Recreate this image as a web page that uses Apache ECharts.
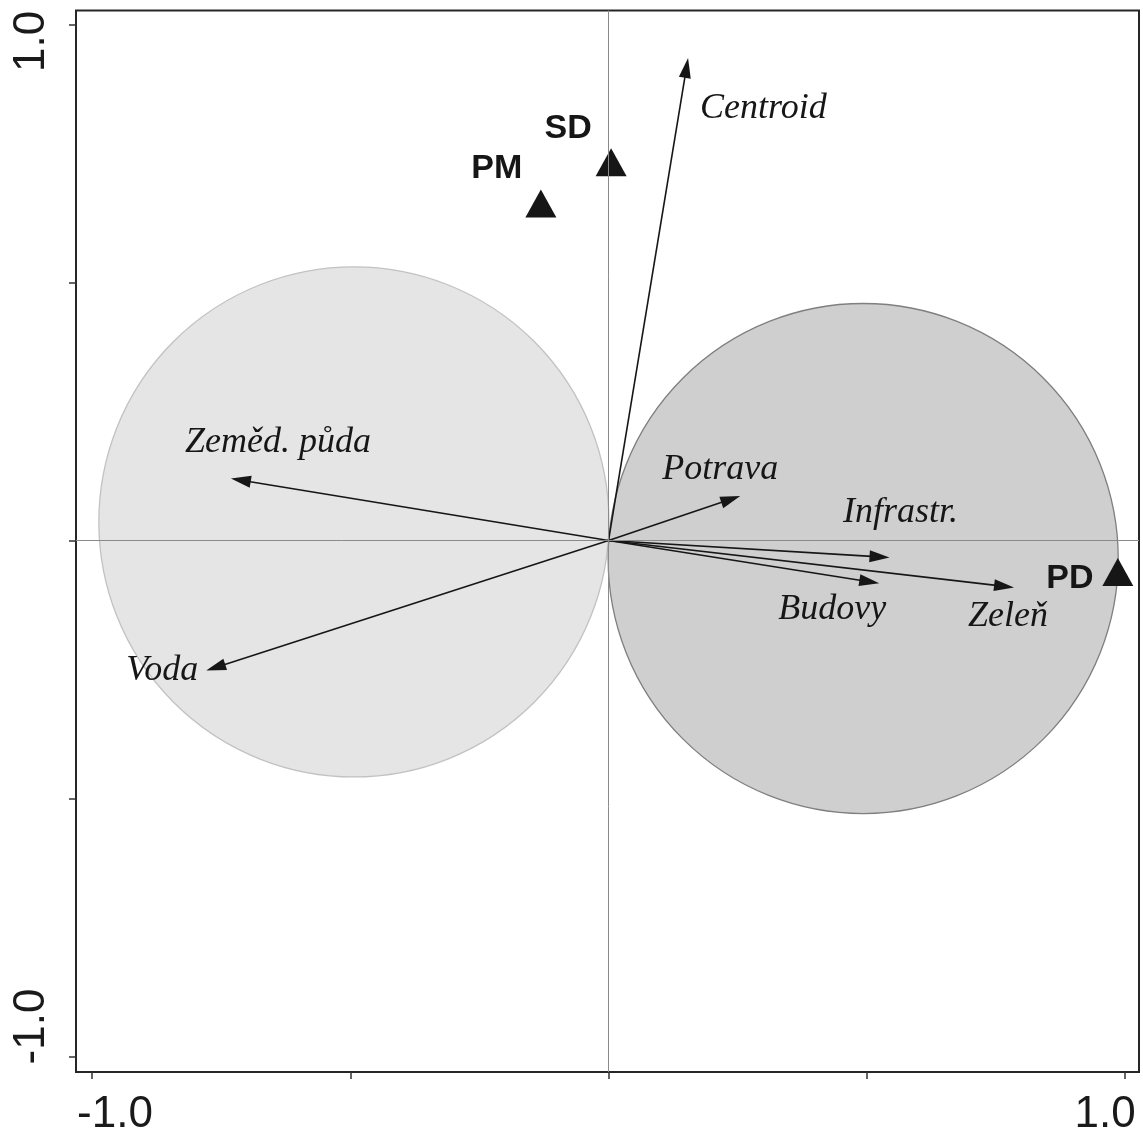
<!DOCTYPE html>
<html>
<head>
<meta charset="utf-8">
<title>CCA biplot</title>
<script src="https://cdn.jsdelivr.net/npm/echarts@6/dist/echarts.min.js"></script>
<style>
  html, body { margin: 0; padding: 0; background: #ffffff; }
  #chart { width: 1143px; height: 1137px; }
</style>
</head>
<body>
<div id="chart"></div>
<script>
// Environmental variables (arrow tips, axis 1 / axis 2)
const varNames = ['Centroid', 'Zeměd. půda', 'Voda', 'Potrava', 'Infrastr.', 'Budovy', 'Zeleň'];
const varX = [0.154, -0.731, -0.779, 0.255, 0.544, 0.524, 0.785];
const varY = [0.935, 0.120, -0.252, 0.086, -0.033, -0.083, -0.091];

// Samples (triangles)
const sampleNames = ['SD', 'PM', 'PD'];
const sampleX = [0.005, -0.131, 0.986];
const sampleY = [0.733, 0.653, -0.061];

// Van Dobben circles: centre x, centre y, radius
const circleX = [-0.493, 0.493];
const circleY = [0.036, -0.035];
const circleR = [0.494, 0.494];

// Axis ticks and labelled ticks
const tickValues = [-1, -0.5, 0, 0.5, 1];
const labelValues = [-1, 1];
const tickLabels = { '-1': '-1.0', '1': '1.0' };

// ---- styling / layout (kept apart from the values) ----
const circleFill = ['#e5e5e5', '#cfcfcf'];
const circleStroke = ['#c2c2c2', '#7f7f7f'];
const ink = '#161616';
const varLabelLayout = {
  'Centroid':    { dx: 12,  dy: 51,  align: 'left' },
  'Zeměd. půda': { dx: 47,  dy: -36, align: 'center' },
  'Voda':        { dx: -8,  dy: 0,   align: 'right' },
  'Potrava':     { dx: -20, dy: -27, align: 'center' },
  'Infrastr.':   { dx: 11,  dy: -45, align: 'center' },
  'Budovy':      { dx: -47, dy: 26,  align: 'center' },
  'Zeleň':       { dx: -6,  dy: 29,  align: 'center' }
};
const sampleLabelOffset = { 'SD': [-43, -34], 'PM': [-44, -35], 'PD': [-48, 7] };

const axisFont = { fontFamily: '"Liberation Sans", Arial, sans-serif', fontSize: 44, color: '#1a1a1a' };

const circleData = circleX.map((x, i) => [x, circleY[i], circleR[i]]);
const arrowData = varX.map((x, i) => [x, varY[i]]);
const sampleData = sampleX.map((x, i) => ({
  name: sampleNames[i],
  value: [x, sampleY[i]],
  label: { offset: sampleLabelOffset[sampleNames[i]] }
}));

function renderCircle(params, api) {
  const c = api.coord([api.value(0), api.value(1)]);
  const s = api.size([api.value(2), api.value(2)]);
  return {
    type: 'circle',
    shape: { cx: c[0], cy: c[1], r: (s[0] + s[1]) / 2 },
    style: { fill: circleFill[params.dataIndex], stroke: circleStroke[params.dataIndex], lineWidth: 1.3 }
  };
}

function renderArrow(params, api) {
  const o = api.coord([0, 0]);
  const t = api.coord([api.value(0), api.value(1)]);
  const dx = t[0] - o[0], dy = t[1] - o[1];
  const len = Math.hypot(dx, dy);
  const ux = dx / len, uy = dy / len;
  const headLen = 20, headHalf = 6;
  const bx = t[0] - ux * headLen, by = t[1] - uy * headLen;
  const name = varNames[params.dataIndex];
  const lay = varLabelLayout[name];
  return {
    type: 'group',
    children: [
      { type: 'line', shape: { x1: o[0], y1: o[1], x2: bx + ux * 2, y2: by + uy * 2 },
        style: { stroke: ink, lineWidth: 1.6 } },
      { type: 'polygon',
        shape: { points: [[t[0], t[1]], [bx - uy * headHalf, by + ux * headHalf], [bx + uy * headHalf, by - ux * headHalf]] },
        style: { fill: ink } },
      { type: 'text', x: t[0] + lay.dx, y: t[1] + lay.dy,
        style: { text: name, font: 'italic 36px "Liberation Serif", "Times New Roman", serif',
                 fill: ink, align: lay.align, verticalAlign: 'middle' } }
    ]
  };
}

const chart = echarts.init(document.getElementById('chart'), null, { renderer: 'canvas' });
chart.setOption({
  animation: false,
  backgroundColor: '#ffffff',
  grid: {
    left: 76, right: 4, top: 10.5, bottom: 63.5,
    show: true, borderColor: '#262626', borderWidth: 2, backgroundColor: 'transparent'
  },
  xAxis: {
    type: 'value', min: -1.031, max: 1.027,
    axisLine: { show: false, onZero: false },
    splitLine: { show: false },
    axisTick: { show: true, customValues: tickValues, length: 7, lineStyle: { color: '#333', width: 1.5 } },
    axisLabel: {
      customValues: labelValues, margin: 21,
      formatter: v => (v < 0 ? '{neg|' : '{pos|') + tickLabels[String(v)] + '}',
      rich: {
        neg: Object.assign({ padding: [0, 0, 0, 46] }, axisFont),
        pos: Object.assign({ padding: [0, 40, 0, 0] }, axisFont)
      }
    }
  },
  yAxis: {
    type: 'value', min: -1.030, max: 1.027,
    axisLine: { show: false, onZero: false },
    splitLine: { show: false },
    axisTick: { show: true, customValues: tickValues, length: 7, lineStyle: { color: '#333', width: 1.5 } },
    axisLabel: {
      customValues: labelValues, margin: 22, rotate: 90,
      formatter: v => (v < 0 ? '{neg|' : '{pos|') + tickLabels[String(v)] + '}',
      rich: {
        neg: Object.assign({ padding: [0, 0, 0, 60] }, axisFont),
        pos: Object.assign({ padding: [0, 34, 0, 0] }, axisFont)
      }
    }
  },
  series: [
    {
      type: 'custom', name: 'circles', z: 1, silent: true,
      renderItem: renderCircle, data: circleData
    },
    {
      type: 'line', name: 'zero', z: 2, data: [], silent: true,
      markLine: {
        silent: true, symbol: 'none', label: { show: false }, animation: false,
        lineStyle: { color: '#8a8a8a', width: 1, type: 'solid' },
        data: [{ xAxis: 0 }, { yAxis: 0 }]
      }
    },
    {
      type: 'custom', name: 'variables', z: 3, silent: true,
      renderItem: renderArrow, data: arrowData
    },
    {
      type: 'scatter', name: 'samples', z: 4, silent: true,
      symbol: 'triangle', symbolSize: [31, 28],
      itemStyle: { color: ink, opacity: 1 },
      label: {
        show: true, position: 'inside', formatter: '{b}',
        fontFamily: '"Liberation Sans", Arial, sans-serif', fontWeight: 'bold', fontSize: 34,
        color: ink, opacity: 1, textBorderWidth: 0
      },
      data: sampleData
    }
  ]
});
</script>
</body>
</html>
